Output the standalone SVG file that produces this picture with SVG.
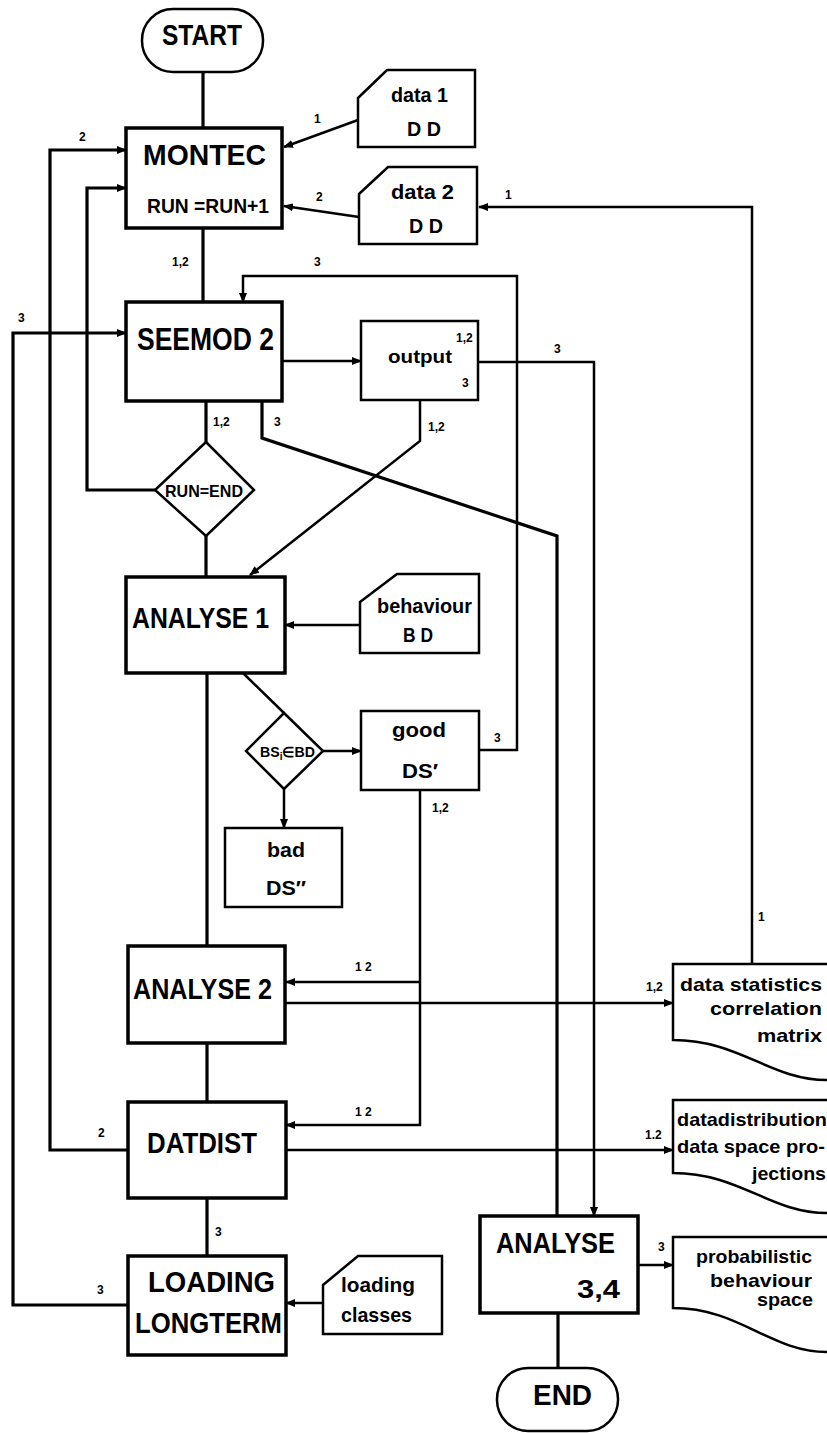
<svg xmlns="http://www.w3.org/2000/svg" width="827" height="1433" viewBox="0 0 827 1433">
<style>
.bg{fill:#fff}
.proc{fill:#fff;stroke:#000;stroke-width:3.5}
.data{fill:#fff;stroke:#000;stroke-width:2.5}
.term{fill:#fff;stroke:#000;stroke-width:2.5}
.c{fill:none;stroke:#000;stroke-width:2.5}
.ct{fill:none;stroke:#000;stroke-width:3.2}
text{font-family:"Liberation Sans",Arial,sans-serif;font-weight:bold;fill:#000}
.big{font-size:29px}
.mid{font-size:21px}
.sm{font-size:19px}
.lb{font-size:12px}
</style>
<defs>
<marker id="ah" viewBox="0 0 10 8" refX="9" refY="4" markerWidth="10" markerHeight="8" markerUnits="userSpaceOnUse" orient="auto">
<path d="M0,0 L10,4 L0,8 z" fill="#000"/>
</marker>
</defs>
<rect class="bg" x="0" y="0" width="827" height="1433"/>
<g id="connectors">
<path class="ct" d="M203,72 V128"/>
<path class="c" d="M358,120 L284,147" marker-end="url(#ah)"/>
<path class="c" d="M359,217 L284,206" marker-end="url(#ah)"/>
<path class="ct" d="M128,1150 H50 V150 H126" marker-end="url(#ah)"/>
<path class="ct" d="M155,490 H87 V188 H126" marker-end="url(#ah)"/>
<path class="ct" d="M128,1305 H13 V333 H126" marker-end="url(#ah)"/>
<path class="ct" d="M203,228 V302"/>
<path class="c" d="M752,964 V207 H479" marker-end="url(#ah)"/>
<path class="c" d="M282,361 H361" marker-end="url(#ah)"/>
<path class="c" d="M478,362 H594 V1216" marker-end="url(#ah)"/>
<path class="c" d="M479,750 H517 V276 H243 V302" marker-end="url(#ah)"/>
<path class="ct" d="M262,401 V438 L557,536 V1216"/>
<path class="ct" d="M206,401 V442"/>
<path class="c" d="M420,400 V441 L250,575" marker-end="url(#ah)"/>
<path class="ct" d="M206,535 V577"/>
<path class="c" d="M360,625 H285" marker-end="url(#ah)"/>
<path class="c" d="M243,673 L284,713"/>
<path class="ct" d="M207,673 V946"/>
<path class="c" d="M323,751 H361" marker-end="url(#ah)"/>
<path class="c" d="M284,789 V828" marker-end="url(#ah)"/>
<path class="c" d="M420,790 V1125 H286" marker-end="url(#ah)"/>
<path class="c" d="M420,982 H286" marker-end="url(#ah)"/>
<path class="c" d="M285,1003 H673" marker-end="url(#ah)"/>
<path class="ct" d="M207,1043 V1102"/>
<path class="c" d="M286,1150 H673" marker-end="url(#ah)"/>
<path class="ct" d="M207,1198 V1256"/>
<path class="c" d="M323,1303 H286" marker-end="url(#ah)"/>
<path class="c" d="M638,1265 H673" marker-end="url(#ah)"/>
<path class="ct" d="M558,1313 V1368"/>
<text class="lb" x="314" y="123">1</text>
<text class="lb" x="316" y="201">2</text>
<text class="lb" x="79" y="141">2</text>
<text class="lb" x="172" y="266">1,2</text>
<text class="lb" x="314" y="266">3</text>
<text class="lb" x="505" y="199">1</text>
<text class="lb" x="18" y="322">3</text>
<text class="lb" x="554" y="353">3</text>
<text class="lb" x="213" y="426">1,2</text>
<text class="lb" x="274" y="426">3</text>
<text class="lb" x="428" y="431">1,2</text>
<text class="lb" x="494" y="742">3</text>
<text class="lb" x="432" y="812">1,2</text>
<text class="lb" x="355" y="971">1 2</text>
<text class="lb" x="355" y="1116">1 2</text>
<text class="lb" x="646" y="991">1,2</text>
<text class="lb" x="758" y="921">1</text>
<text class="lb" x="98" y="1137">2</text>
<text class="lb" x="645" y="1139">1.2</text>
<text class="lb" x="215" y="1236">3</text>
<text class="lb" x="97" y="1294">3</text>
<text class="lb" x="658" y="1251">3</text>
</g>
<g id="start">
<rect class="term" x="142" y="9" width="121" height="63" rx="31"/>
<text class="big" x="162" y="45" textLength="80" lengthAdjust="spacingAndGlyphs">START</text>
</g>
<g id="montec">
<rect class="proc" x="126" y="128" width="156" height="100"/>
<text x="143" y="165" font-size="30" textLength="123" lengthAdjust="spacingAndGlyphs">MONTEC</text>
<text x="147" y="213" font-size="20" textLength="122" lengthAdjust="spacingAndGlyphs">RUN =RUN+1</text>
</g>
<g id="data1">
<path class="data" d="M358,98 L387,70 H475 V147 H358 Z"/>
<text class="mid" x="391" y="102" textLength="57" lengthAdjust="spacingAndGlyphs">data 1</text>
<text class="mid" x="407" y="136" textLength="34" lengthAdjust="spacingAndGlyphs">D D</text>
</g>
<g id="data2">
<path class="data" d="M359,194 L388,167 H477 V244 H359 Z"/>
<text class="mid" x="391" y="199" textLength="63" lengthAdjust="spacingAndGlyphs">data 2</text>
<text class="mid" x="409" y="233" textLength="34" lengthAdjust="spacingAndGlyphs">D D</text>
</g>
<g id="seemod2">
<rect class="proc" x="126" y="302" width="156" height="99"/>
<text x="137" y="350" font-size="31" textLength="137" lengthAdjust="spacingAndGlyphs">SEEMOD 2</text>
</g>
<g id="output">
<rect class="data" x="361" y="321" width="117" height="79"/>
<text class="sm" x="388" y="363" textLength="64" lengthAdjust="spacingAndGlyphs">output</text>
<text class="lb" x="456" y="342">1,2</text>
<text class="lb" x="462" y="387">3</text>
</g>
<g id="runend">
<polygon class="data" points="206,442 254,490 206,536 155,490"/>
<text x="165" y="497" font-size="17" textLength="78" lengthAdjust="spacingAndGlyphs">RUN=END</text>
</g>
<g id="analyse1">
<rect class="proc" x="126" y="577" width="159" height="96"/>
<text class="big" x="132" y="628" textLength="137" lengthAdjust="spacingAndGlyphs">ANALYSE 1</text>
</g>
<g id="behaviour">
<path class="data" d="M360,602 L397,574 H479 V653 H360 Z"/>
<text class="mid" x="377" y="613" textLength="95" lengthAdjust="spacingAndGlyphs">behaviour</text>
<text class="mid" x="403" y="642" textLength="30" lengthAdjust="spacingAndGlyphs">B D</text>
</g>
<g id="bsdecision">
<polygon class="data" points="284,713 323,751 284,789 246,751"/>
<text x="260" y="757" font-size="14" textLength="55" lengthAdjust="spacingAndGlyphs">BS<tspan font-size="10" dy="3">i</tspan><tspan dy="-3">∈BD</tspan></text>
</g>
<g id="good">
<rect class="data" x="361" y="711" width="118" height="79"/>
<text class="mid" x="392" y="737" textLength="54" lengthAdjust="spacingAndGlyphs">good</text>
<text class="mid" x="402" y="778" textLength="36" lengthAdjust="spacingAndGlyphs">DS′</text>
</g>
<g id="bad">
<rect class="data" x="225" y="828" width="117" height="79"/>
<text class="mid" x="267" y="857" textLength="38" lengthAdjust="spacingAndGlyphs">bad</text>
<text class="mid" x="266" y="895" textLength="40" lengthAdjust="spacingAndGlyphs">DS″</text>
</g>
<g id="analyse2">
<rect class="proc" x="128" y="946" width="157" height="97"/>
<text class="big" x="133" y="999" textLength="139" lengthAdjust="spacingAndGlyphs">ANALYSE 2</text>
</g>
<g id="datdist">
<rect class="proc" x="128" y="1102" width="158" height="96"/>
<text class="big" x="147" y="1153" textLength="110" lengthAdjust="spacingAndGlyphs">DATDIST</text>
</g>
<g id="loading">
<rect class="proc" x="128" y="1256" width="158" height="99"/>
<text class="big" x="148" y="1292" textLength="127" lengthAdjust="spacingAndGlyphs">LOADING</text>
<text class="big" x="135" y="1333" textLength="147" lengthAdjust="spacingAndGlyphs">LONGTERM</text>
</g>
<g id="loadingclasses">
<path class="data" d="M323,1285 L358,1256 H442 V1334 H323 Z"/>
<text class="mid" x="341" y="1292" textLength="74" lengthAdjust="spacingAndGlyphs">loading</text>
<text class="mid" x="341" y="1322" textLength="71" lengthAdjust="spacingAndGlyphs">classes</text>
</g>
<g id="analyse34">
<rect class="proc" x="480" y="1216" width="158" height="97"/>
<text class="big" x="496" y="1253" textLength="119" lengthAdjust="spacingAndGlyphs">ANALYSE</text>
<text x="577" y="1298" font-size="25" textLength="43" lengthAdjust="spacingAndGlyphs">3,4</text>
</g>
<g id="end">
<rect class="term" x="497" y="1368" width="121" height="63" rx="31"/>
<text class="big" x="533" y="1405" textLength="59" lengthAdjust="spacingAndGlyphs">END</text>
</g>
<g id="datastatistics">
<path class="data" d="M827,964 H673 V1040 C740,1040 770,1080 827,1080"/>
<text class="sm" x="680" y="991" textLength="142" lengthAdjust="spacingAndGlyphs">data statistics</text>
<text class="sm" x="710" y="1015" textLength="112" lengthAdjust="spacingAndGlyphs">correlation</text>
<text class="sm" x="757" y="1042" textLength="65" lengthAdjust="spacingAndGlyphs">matrix</text>
</g>
<g id="datadistribution">
<path class="data" d="M827,1100 H673 V1173 C740,1173 770,1213 827,1213"/>
<text class="sm" x="677" y="1126" textLength="150" lengthAdjust="spacingAndGlyphs">datadistribution</text>
<text class="sm" x="677" y="1153" textLength="148" lengthAdjust="spacingAndGlyphs">data space pro-</text>
<text class="sm" x="752" y="1180" textLength="74" lengthAdjust="spacingAndGlyphs">jections</text>
</g>
<g id="probabilistic">
<path class="data" d="M827,1237 H673 V1308 C740,1308 770,1352 827,1352"/>
<text class="sm" x="696" y="1263" textLength="116" lengthAdjust="spacingAndGlyphs">probabilistic</text>
<text class="sm" x="710" y="1287" textLength="102" lengthAdjust="spacingAndGlyphs">behaviour</text>
<text class="sm" x="757" y="1306" textLength="56" lengthAdjust="spacingAndGlyphs">space</text>
</g>
</svg>
